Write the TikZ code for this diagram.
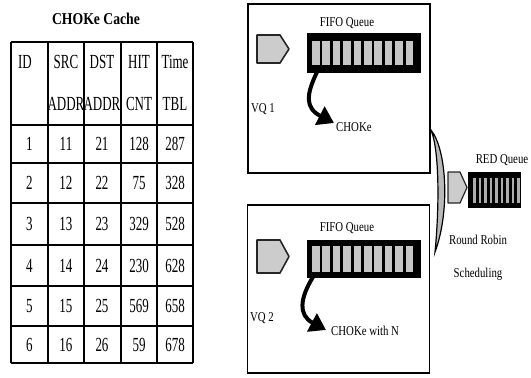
\documentclass[tikz,border=0pt]{standalone}
\usepackage{fontspec}
\setmainfont[FakeStretch=0.8]{Liberation Serif}
\newfontfamily\tabfont[FakeStretch=0.65]{Liberation Serif}
\newfontfamily\titlefont[FakeStretch=0.83]{Liberation Serif}
\usetikzlibrary{arrows.meta}
\begin{document}
\begin{tikzpicture}[x=1pt,y=-1pt,
  tabtxt/.style={font=\tabfont\fontsize{20}{20}\selectfont, inner sep=0pt},
  smalltxt/.style={font=\fontsize{13.5}{14}\selectfont, inner sep=0pt},
  hline/.style={line width=2pt},
  vline/.style={line width=1.3pt},
  vqbox/.style={draw, line width=1.3pt, minimum width=182pt, inner sep=0pt},
  queue/.style={fill=black, inner sep=0pt},
  slot/.style={fill=gray!45},
  pent/.style={fill=gray!40, draw=black!85, line width=1.6pt, line join=round},
  bigarrow/.style={line width=4pt, -{Triangle[length=16pt,width=20pt]}},
  leaf/.style={fill=gray!55, draw=black, line width=1.2pt}
]
\useasboundingbox (0,0) rectangle (531,378);
% ---------- table ----------
\node[font=\titlefont\bfseries\fontsize{16.5}{16.5}\selectfont, inner sep=0pt] (title) at (96,19) {CHOKe Cache};
\foreach \x in {11,48,84,121,157,193} \draw[vline] (\x,42) -- (\x,363);
\foreach \y in {42,125,163,203,245,286,326,363} \draw[hline] (11,\y) -- (193,\y);
\node[tabtxt] (hid) at (25,62) {ID};
\node[tabtxt] (hsrc) at (66,62) {SRC};
\node[tabtxt] (hdst) at (102,62) {DST};
\node[tabtxt] (hhit) at (139,62) {HIT};
\node[tabtxt] (htime) at (175,62) {Time};
\node[tabtxt] (hsrc2) at (66,104) {ADDR};
\node[tabtxt] (hdst2) at (102,104) {ADDR};
\node[tabtxt] (hhit2) at (139,104) {CNT};
\node[tabtxt] (htime2) at (175,104) {TBL};
\foreach \r/\y/\a/\b/\c/\d/\e in {1/144/1/11/21/128/287, 2/183/2/12/22/75/328, 3/224/3/13/23/329/528, 4/265.5/4/14/24/230/628, 5/306/5/15/25/569/658, 6/344.5/6/16/26/59/678}{
  \node[tabtxt] (c\r a) at (29.5,\y) {\a};
  \node[tabtxt] (c\r b) at (66,\y) {\b};
  \node[tabtxt] (c\r c) at (102,\y) {\c};
  \node[tabtxt] (c\r d) at (139,\y) {\d};
  \node[tabtxt] (c\r e) at (175,\y) {\e};
}
% ---------- VQ 1 ----------
\node[vqbox, minimum height=169pt] (vq1) at (339,88.5) {};
\draw[pent] (257,35) -- (280,35) -- (289,49) -- (280,63) -- (257,63) -- cycle;
\node[queue, minimum width=114pt, minimum height=40pt] (q1) at (364,53) {};
\foreach \i in {0,...,9} \fill[slot] (312+\i*10.4,41) rectangle (319.5+\i*10.4,65);
\node[smalltxt] (fifo1) at (347,23) {FIFO Queue};
\node[smalltxt] (vqa) at (263,109) {VQ 1};
\node[smalltxt, anchor=west] (choke1) at (336,127) {CHOKe};
\coordinate (a1s) at (317,72);
\coordinate (a1e) at (334,123);
\draw[bigarrow] (a1s) .. controls (306,95) and (305,108) .. (a1e);
% ---------- VQ 2 ----------
\node[vqbox, minimum height=168pt] (vq2) at (338.5,289) {};
\draw[pent] (257,240) -- (280,240) -- (289,256.5) -- (280,273) -- (257,273) -- cycle;
\node[queue, minimum width=114pt, minimum height=38pt] (q2) at (364,259) {};
\foreach \i in {0,...,9} \fill[slot] (312+\i*10.4,246) rectangle (319.5+\i*10.4,272);
\node[smalltxt] (fifo2) at (347,228) {FIFO Queue};
\node[smalltxt] (vqb) at (262,318) {VQ 2};
\node[smalltxt, anchor=west] (choke2) at (331,331) {CHOKe with N};
\coordinate (a2s) at (313,277);
\coordinate (a2e) at (326,330);
\draw[bigarrow] (a2s) .. controls (300,298) and (298,315) .. (a2e);
% ---------- RED queue ----------
\draw[leaf] (431,130) .. controls (447,150) and (450,212) .. (435,252)
            .. controls (439,212) and (440,152) .. cycle;
\draw[pent, line width=1.2pt] (448,172) -- (460,172) -- (467,187.5) -- (460,203) -- (448,203) -- cycle;
\node[queue, minimum width=53pt, minimum height=36pt] (red) at (494.5,190) {};
\foreach \i in {0,...,8} \fill[gray!65] (473+\i*5.5,178) rectangle (475.5+\i*5.5,203);
\node[smalltxt] (redl) at (502,160) {RED Queue};
\node[smalltxt] (rr) at (478,240) {Round Robin};
\node[smalltxt] (sch) at (478,274) {Scheduling};
\end{tikzpicture}
\end{document}
